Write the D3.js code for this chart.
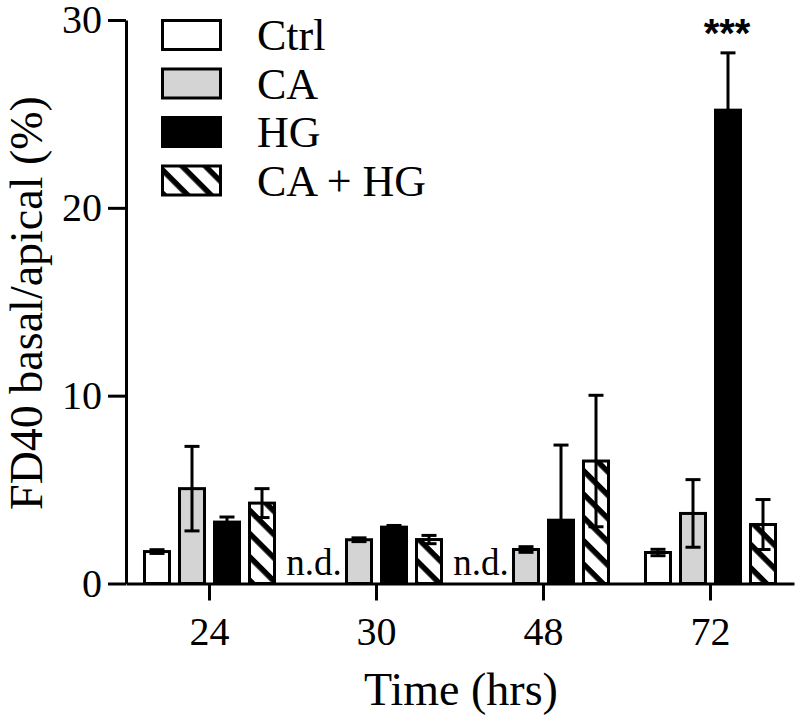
<!DOCTYPE html>
<html><head><meta charset="utf-8">
<script src="https://cdn.jsdelivr.net/npm/d3@7"></script>
<style>body{margin:0;background:#fff}svg{display:block}
svg text{font-family:"Liberation Serif","Times New Roman",Times,"DejaVu Serif",serif;fill:#000}
svg text.sig{font-family:"Liberation Sans",Arial,sans-serif;font-weight:bold}
</style>
</head><body><svg id="c" width="800" height="721"></svg>
<script>
const categories = ["24", "30", "48", "72"];
const seriesNames = ["Ctrl", "CA", "HG", "CA + HG"];
const ctrlMean = [1.7, null, null, 1.65];
const ctrlErr  = [0.1, null, null, 0.17];
const caMean   = [5.05, 2.33, 1.81, 3.73];
const caErr    = [2.25, 0.1, 0.15, 1.8];
const hgMean   = [3.27, 3.0, 3.37, 25.2];
const hgErr    = [0.27, 0.09, 4.0, 3.05];
const cahgMean = [4.28, 2.34, 6.52, 3.14];
const cahgErr  = [0.77, 0.22, 3.5, 1.33];
const yTicks = [0, 10, 20, 30];
const hgSignif = ["", "", "", "***"];
const notDetected = "n.d.";

const means = [ctrlMean, caMean, hgMean, cahgMean];
const errs = [ctrlErr, caErr, hgErr, cahgErr];
const fills = ["#ffffff", "#d4d4d4", "#000000", "url(#hatch)"];

const svg = d3.select("#c");

const defs = svg.append("defs");
const pat = defs.append("pattern").attr("id", "hatch")
  .attr("patternUnits", "userSpaceOnUse").attr("width", 16.5).attr("height", 16.5)
  .attr("patternTransform", "rotate(45)");
pat.append("rect").attr("width", 16.5).attr("height", 16.5).attr("fill", "#fff");
pat.append("rect").attr("width", 16.5).attr("height", 5.5).attr("fill", "#000");

const x = d3.scaleBand().domain(categories).range([126, 794]).padding(0);
const xs = d3.scaleBand().domain(seriesNames).range([-70, 70]).paddingInner(0.2).paddingOuter(0.1);
const y = d3.scaleLinear().domain([0, 30]).range([583.5, 20]);

// axes
const gy = svg.append("g").attr("transform", "translate(126,0)")
  .call(d3.axisLeft(y).tickValues(yTicks).tickSize(18).tickSizeOuter(0).tickPadding(6));
gy.attr("font-family", null);
gy.select(".domain").attr("stroke-width", 3);
gy.selectAll(".tick line").attr("stroke-width", 3);
gy.selectAll(".tick text").style("font-size", "40px");

const gx = svg.append("g").attr("transform", `translate(0,${y(0)})`)
  .call(d3.axisBottom(x).tickSize(17).tickSizeOuter(0).tickPadding(16));
gx.attr("font-family", null);
gx.select(".domain").attr("stroke-width", 3);
gx.selectAll(".tick line").attr("stroke-width", 3);
gx.selectAll(".tick text").style("font-size", "40px");

// bars
const data = [];
categories.forEach((c, ci) => seriesNames.forEach((s, si) => {
  data.push({c, s, si, v: means[si][ci], e: errs[si][ci]});
}));
const g = svg.append("g");
const present = data.filter(d => d.v != null);
g.selectAll("rect.bar").data(present).join("rect").attr("class", "bar")
  .attr("x", d => x(d.c) + x.bandwidth() / 2 + xs(d.s) + 1.5)
  .attr("width", xs.bandwidth() - 3)
  .attr("y", d => y(d.v))
  .attr("height", d => y(0) - y(d.v))
  .attr("fill", d => fills[d.si]).attr("stroke", "#000").attr("stroke-width", 3);

// error bars
const cx = d => x(d.c) + x.bandwidth() / 2 + xs(d.s) + xs.bandwidth() / 2;
const lo = d => Math.max(0, d.v - d.e);
const eb = g.selectAll("g.eb").data(present).join("g").attr("class", "eb")
  .attr("stroke", "#000").attr("stroke-width", 3);
eb.append("line").attr("x1", cx).attr("x2", cx)
  .attr("y1", d => y(lo(d))).attr("y2", d => y(d.v + d.e));
eb.append("line").attr("x1", d => cx(d) - 7.5).attr("x2", d => cx(d) + 7.5)
  .attr("y1", d => y(d.v + d.e)).attr("y2", d => y(d.v + d.e));
eb.filter(d => d.v - d.e > 0).append("line")
  .attr("x1", d => cx(d) - 7.5).attr("x2", d => cx(d) + 7.5)
  .attr("y1", d => y(d.v - d.e)).attr("y2", d => y(d.v - d.e));

// n.d.
g.selectAll("text.nd").data(data.filter(d => d.v == null)).join("text").attr("class", "nd")
  .attr("x", d => cx(d) - 10).attr("y", y(0) - 9)
  .attr("text-anchor", "middle").style("font-size", "37px")
  .text(notDetected);

// significance
const hgData = data.filter(d => d.si === 2);
g.selectAll("text.sig").data(hgData.filter((d, i) => hgSignif[i])).join("text").attr("class", "sig")
  .attr("x", d => cx(d) - 1).attr("y", d => y(d.v + d.e) - 6)
  .attr("text-anchor", "middle").style("font-size", "40px")
  .text(d => hgSignif[categories.indexOf(d.c)]);

// axis labels
svg.append("text").attr("transform", "translate(42,303) rotate(-90)")
  .attr("text-anchor", "middle").style("font-size", "46px")
  .text("FD40 basal/apical (%)");
svg.append("text").attr("x", 461).attr("y", 705)
  .attr("text-anchor", "middle").style("font-size", "46px")
  .text("Time (hrs)");

// legend
const lg = svg.append("g").selectAll("g").data(seriesNames).join("g")
  .attr("transform", (d, i) => `translate(161,${19 + i * 48.5})`);
lg.append("rect").attr("x", 1.5).attr("y", 1.5).attr("width", 58).attr("height", 29)
  .attr("fill", (d, i) => fills[i]).attr("stroke", "#000").attr("stroke-width", 3);
lg.append("text").attr("x", 96).attr("y", 31)
  .style("font-size", "44px").text(d => d);
</script></body></html>
